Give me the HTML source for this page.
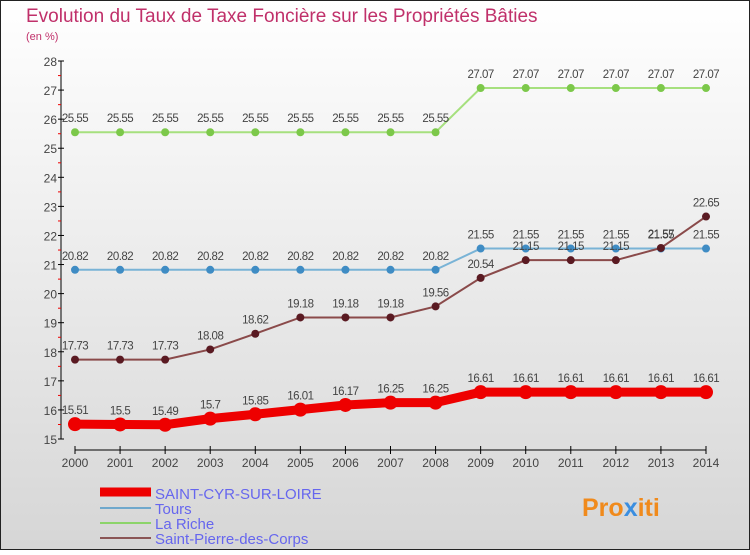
<!DOCTYPE html>
<html><head><meta charset="utf-8"><style>
body{margin:0}
svg text{font-family:"Liberation Sans",sans-serif}
</style></head><body>
<svg id="c" width="750" height="550" xmlns="http://www.w3.org/2000/svg">
<defs><linearGradient id="bg" x1="0" y1="0" x2="0" y2="1"><stop offset="0" stop-color="#ffffff"/><stop offset="1" stop-color="#d6d6d6"/></linearGradient></defs>
<rect x="0.5" y="0.5" width="749" height="549" fill="url(#bg)" stroke="#222"/>
<text x="26" y="22" font-size="19" fill="#c0306a">Evolution du Taux de Taxe Foncière sur les Propriétés Bâties</text>
<text x="26" y="40" font-size="11" fill="#c0306a">(en %)</text>
<g id="axes"></g><g id="series"></g>
<g>
<line x1="100" y1="492" x2="151" y2="492" stroke="#e00" stroke-width="9"/>
<text x="155" y="499" font-size="15" fill="#6666ee">SAINT-CYR-SUR-LOIRE</text>
<line x1="100" y1="508" x2="151" y2="508" stroke="#6fa8cc" stroke-width="2"/>
<text x="155" y="514" font-size="15" fill="#6666ee">Tours</text>
<line x1="100" y1="523" x2="151" y2="523" stroke="#8cd46a" stroke-width="2"/>
<text x="155" y="529" font-size="15" fill="#6666ee">La Riche</text>
<line x1="100" y1="538" x2="151" y2="538" stroke="#8a5555" stroke-width="2"/>
<text x="155" y="544" font-size="15" fill="#6666ee">Saint-Pierre-des-Corps</text>
</g>
<text x="582" y="516" font-size="25" font-weight="bold" fill="#f08a1c">Pro<tspan fill="#3a8ee0">x</tspan>iti</text>
</svg>
<script>
const years=[2000,2001,2002,2003,2004,2005,2006,2007,2008,2009,2010,2011,2012,2013,2014];
const yTicks=[15,16,17,18,19,20,21,22,23,24,25,26,27,28];
const saintCyr=[15.51,15.5,15.49,15.7,15.85,16.01,16.17,16.25,16.25,16.61,16.61,16.61,16.61,16.61,16.61];
const tours=[20.82,20.82,20.82,20.82,20.82,20.82,20.82,20.82,20.82,21.55,21.55,21.55,21.55,21.55,21.55];
const laRiche=[25.55,25.55,25.55,25.55,25.55,25.55,25.55,25.55,25.55,27.07,27.07,27.07,27.07,27.07,27.07];
const saintPierre=[17.73,17.73,17.73,18.08,18.62,19.18,19.18,19.18,19.56,20.54,21.15,21.15,21.15,21.57,22.65];
const NS="http://www.w3.org/2000/svg";
const xS=i=>75+i*(706-75)/(years.length-1);
const yS=v=>439-(v-15)*(439-61)/13;
function mk(t,a,p){const e=document.createElementNS(NS,t);for(const k in a)e.setAttribute(k,a[k]);p.appendChild(e);return e;}
const ax=document.getElementById('axes');
let l=mk('line',{x1:61,y1:61,x2:61,y2:439,stroke:'#000'},ax);


l=mk('line',{x1:75,y1:450,x2:706,y2:450,stroke:'#000'},ax);


yTicks.forEach(v=>{const y=yS(v);
mk('line',{x1:58,y1:y,x2:64,y2:y,stroke:'#000'},ax);
if(v<28)mk('line',{x1:58,y1:y-14.5,x2:61,y2:y-14.5,stroke:'#e00'},ax);
const t=mk('text',{x:57,y:y+5,'font-size':12,fill:'#444','text-anchor':'end'},ax);t.textContent=v;

});
years.forEach((yr,i)=>{const x=xS(i);
mk('line',{x1:x,y1:446,x2:x,y2:454,stroke:'#000'},ax);
const t=mk('text',{x:x,y:467,'font-size':12,fill:'#444','text-anchor':'middle'},ax);t.textContent=yr;

});
const sg=document.getElementById('series');
function series(vals,name,col,dot,w,r){
const g=mk('g',{},sg);


const pl=mk('polyline',{points:vals.map((v,i)=>xS(i)+','+yS(v)).join(' '),fill:'none',stroke:col,'stroke-width':w},g);


vals.forEach((v,i)=>{const c=mk('circle',{cx:xS(i),cy:yS(v),r:r,fill:dot},g);


const t=mk('text',{x:xS(i),y:yS(v)-10,'font-size':11.5,fill:'#444','text-anchor':'middle','letter-spacing':'-0.5'},g);t.textContent=v;

});}
series(laRiche,'la-riche-series','#a6e07e','#7cc84a',2,4);
series(tours,'tours-series','#79b3d6','#3f8cc4',2,4);
series(saintPierre,'saint-pierre-series','#8a4a4a','#5a1a22',2,4);
series(saintCyr,'saint-cyr-series','#ee0000','#ee0000',9,7);
</script>
</body></html>
